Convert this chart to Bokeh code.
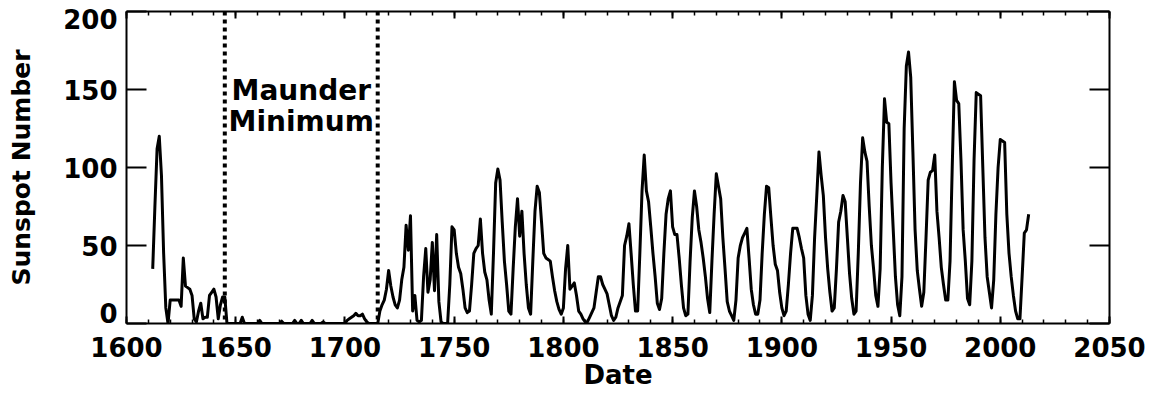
from bokeh.plotting import figure
from bokeh.models import LinearAxis, Span, Label, SingleIntervalTicker, FixedTicker, Range1d
from bokeh.embed import file_html
from bokeh.resources import INLINE

# ---------------- data ----------------
first_year = 1612
sunspots = [
    # 1612-1621
    35, 75, 112, 120, 95, 45, 10, 0, 15, 15,
    # 1622-1631
    15, 15, 15, 11, 42, 24, 23, 22, 18, 3,
    # 1632-1641
    1, 8, 13, 3, 4, 4, 18, 20, 22, 17,
    # 1642-1646
    3, 12, 17, 17, 0,
    # 1647-1656
    0, 0, 0, 0, 0, 0, 4, 0, 0, 0,
    # 1657-1666
    0, 0, 0, 0, 2, 0, 0, 0, 0, 0,
    # 1667-1676
    0, 0, 0, 0, 1.5, 0, 0, 0, 0, 0,
    # 1677-1686
    2, 0, 0, 2, 0, 0, 0, 0, 2, 0,
    # 1687-1696
    0, 0, 0, 1, 0, 0, 0, 0, 0, 0,
    # 1697-1706
    0, 0, 0, 0, 2, 3, 4, 5, 6.5, 5,
    # 1707-1714
    5, 6, 3, 1, 0, 0, 0, 0,
    # 1715-1734
    0, 8, 12, 15, 22, 34, 24, 17, 12, 10, 15, 28, 36, 63, 47, 69, 8, 18, 2, 1,
    # 1735-1754
    2, 30, 48, 20, 28, 52, 21, 57, 14, 1, 0, 0, 0, 25, 62, 60, 45, 36, 32, 22,
    # 1755-1760
    10, 7, 8, 25, 45, 48,
    # 1761-1800
    50, 67, 45, 33, 28, 15, 6, 45, 90, 99, 92, 65, 40, 25, 8, 6, 35, 62, 80, 56,
    72, 45, 25, 10, 6, 40, 72, 88, 84, 65, 45, 42, 41, 40, 30, 21, 14, 9, 6, 10,
    # 1801-1850
    35, 50, 22, 24, 26, 18, 8, 6, 3, 1, 1, 4, 7, 10, 20, 30, 30, 25, 22, 19,
    12, 5, 2, 4, 10, 14, 18, 50, 56, 64, 45, 25, 8, 8, 45, 85, 108, 85, 78, 62,
    45, 30, 13, 9, 16, 45, 70, 80, 85, 62,
    # 1851-1900
    57, 57, 42, 25, 10, 5, 6, 40, 68, 85, 75, 60, 52, 42, 30, 16, 7, 40, 70, 96,
    88, 80, 55, 35, 14, 8, 5, 2, 15, 42, 50, 55, 58, 61, 42, 22, 12, 6, 6, 15,
    45, 70, 88, 87, 68, 50, 38, 34, 20, 10,
    # 1901-1950
    5, 8, 25, 45, 61, 61, 61, 55, 48, 42, 18, 6, 2, 18, 55, 82, 110, 95, 82, 55,
    35, 20, 8, 10, 35, 65, 72, 82, 78, 55, 32, 16, 6, 8, 45, 90, 119, 110, 104, 75,
    50, 35, 18, 11, 35, 100, 144, 129, 128, 90,
    # 1951-2013
    60, 30, 12, 5, 30, 125, 165, 174, 158, 110, 60, 34, 22, 11, 20, 55, 92, 97, 98, 108,
    72, 55, 36, 25, 15, 15, 40, 100, 155, 143, 141, 105, 60, 40, 16, 12, 40, 105, 148, 147,
    146, 100, 55, 30, 20, 10, 28, 70, 100, 118, 117, 116, 70, 45, 30, 18, 8, 3, 3, 30,
    58, 60, 70,
]
years = [first_year + i for i in range(len(sunspots))]

x_ticks = [1600, 1650, 1700, 1750, 1800, 1850, 1900, 1950, 2000, 2050]
y_ticks = [0, 50, 100, 150, 200]
maunder_bounds = [1645, 1715]
maunder_text = ["Maunder", "Minimum"]
x_title = "Date"
y_title = "Sunspot Number"

FONT = "DejaVu Sans"

p = figure(width=1151, height=396, output_backend="svg", toolbar_location=None,
           x_range=Range1d(x_ticks[0], x_ticks[-1]), y_range=Range1d(y_ticks[0], y_ticks[-1]),
           min_border_left=126, min_border_right=42, min_border_top=11, min_border_bottom=73,
           x_axis_location=None, y_axis_location=None)
p.outline_line_color = None
p.xgrid.visible = False
p.ygrid.visible = False
p.background_fill_color = "white"
p.border_fill_color = "white"


def style_axis(ax, major_len, minor_len, show_labels):
    ax.axis_line_width = 2
    ax.axis_line_color = "black"
    ax.major_tick_in = major_len
    ax.major_tick_out = 0
    ax.minor_tick_in = minor_len
    ax.minor_tick_out = 0
    ax.major_tick_line_width = 2
    ax.minor_tick_line_width = 1.5
    ax.major_tick_line_color = "black"
    ax.minor_tick_line_color = "black" if minor_len else None
    if show_labels:
        ax.major_label_text_font = FONT
        ax.major_label_text_font_style = "bold"
        ax.major_label_text_font_size = "26px"
        ax.major_label_text_color = "black"
    else:
        ax.major_label_text_font_size = "0px"
        ax.major_label_text_color = None
        ax.major_label_standoff = 0


xt = SingleIntervalTicker(interval=50, num_minor_ticks=5)
yt = FixedTicker(ticks=y_ticks, minor_ticks=[])

bottom = LinearAxis(ticker=xt)
style_axis(bottom, 7, 4, True)
bottom.major_label_standoff = 13
bottom.axis_label = x_title
bottom.axis_label_text_font = FONT
bottom.axis_label_text_font_style = "bold"
bottom.axis_label_text_font_size = "26px"
bottom.axis_label_text_color = "black"
bottom.axis_label_standoff = 0
p.add_layout(bottom, "below")

top = LinearAxis(ticker=xt)
style_axis(top, 7, 4, False)
p.add_layout(top, "above")

# left axis: tick marks only
left_ticks = LinearAxis(ticker=yt)
style_axis(left_ticks, 20, 0, False)
p.add_layout(left_ticks, "left")

# left axis: labels only; the end labels sit a little inside the frame, as in the reference
px_per_unit = 312 / (y_ticks[-1] - y_ticks[0])
lab0 = y_ticks[0] + round(11 / px_per_unit)
lab_top = y_ticks[-1] - round(8 / px_per_unit)
label_pos = [lab0] + y_ticks[1:-1] + [lab_top]
left_labels = LinearAxis(ticker=FixedTicker(ticks=label_pos, minor_ticks=[]))
style_axis(left_labels, 0, 0, True)
left_labels.axis_line_color = None
left_labels.major_tick_line_color = None
left_labels.major_label_standoff = 9
left_labels.major_label_overrides = {lab0: str(y_ticks[0]), lab_top: str(y_ticks[-1])}
left_labels.axis_label = y_title
left_labels.axis_label_text_font = FONT
left_labels.axis_label_text_font_style = "bold"
left_labels.axis_label_text_font_size = "25px"
left_labels.axis_label_text_color = "black"
left_labels.axis_label_standoff = 24
p.add_layout(left_labels, "left")

right = LinearAxis(ticker=yt)
style_axis(right, 20, 0, False)
p.add_layout(right, "right")

# Maunder minimum boundaries
for b in maunder_bounds:
    p.add_layout(Span(location=b, dimension="height", line_color="black",
                      line_width=4, line_dash="4 4"))

mid = sum(maunder_bounds) / 2
for txt, yv in zip(maunder_text, (149.4, 129.5)):
    p.add_layout(Label(x=mid, y=yv, text=txt, text_align="center", text_baseline="alphabetic",
                       text_font=FONT, text_font_style="bold", text_font_size="28px",
                       text_color="black"))

p.line(years, sunspots, line_color="black", line_width=3, line_join="round")

open("out.html", "w").write(file_html(p, INLINE))
